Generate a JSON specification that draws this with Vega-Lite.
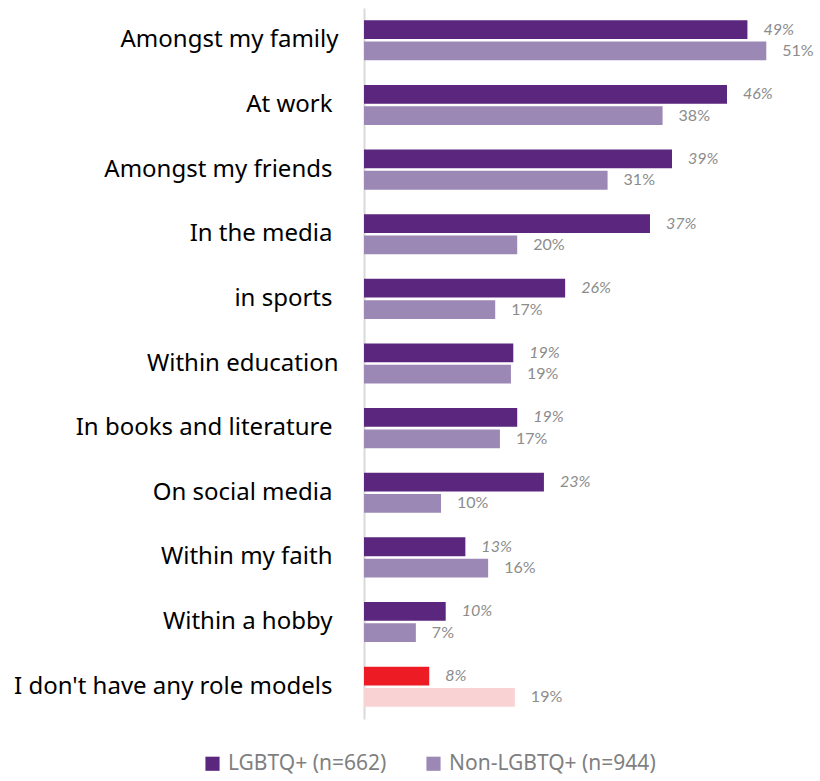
{
  "$schema": "https://vega.github.io/schema/vega-lite/v6.json",
  "autosize": {"type": "none"},
  "padding": {"left": 364, "top": 8, "right": 16, "bottom": 62},
  "width": 440,
  "height": 711,
  "background": "white",
  "config": {"view": {"stroke": null}, "font": "Noto Sans"},
  "data": {"values": [
    {"category": "Amongst my family", "group": "LGBTQ+ (n=662)", "value": 48.8, "label": "49%"},
    {"category": "Amongst my family", "group": "Non-LGBTQ+ (n=944)", "value": 51.2, "label": "51%"},
    {"category": "At work", "group": "LGBTQ+ (n=662)", "value": 46.2, "label": "46%"},
    {"category": "At work", "group": "Non-LGBTQ+ (n=944)", "value": 38.0, "label": "38%"},
    {"category": "Amongst my friends", "group": "LGBTQ+ (n=662)", "value": 39.2, "label": "39%"},
    {"category": "Amongst my friends", "group": "Non-LGBTQ+ (n=944)", "value": 31.0, "label": "31%"},
    {"category": "In the media", "group": "LGBTQ+ (n=662)", "value": 36.4, "label": "37%"},
    {"category": "In the media", "group": "Non-LGBTQ+ (n=944)", "value": 19.5, "label": "20%"},
    {"category": "in sports", "group": "LGBTQ+ (n=662)", "value": 25.6, "label": "26%"},
    {"category": "in sports", "group": "Non-LGBTQ+ (n=944)", "value": 16.7, "label": "17%"},
    {"category": "Within education", "group": "LGBTQ+ (n=662)", "value": 19.0, "label": "19%"},
    {"category": "Within education", "group": "Non-LGBTQ+ (n=944)", "value": 18.7, "label": "19%"},
    {"category": "In books and literature", "group": "LGBTQ+ (n=662)", "value": 19.5, "label": "19%"},
    {"category": "In books and literature", "group": "Non-LGBTQ+ (n=944)", "value": 17.3, "label": "17%"},
    {"category": "On social media", "group": "LGBTQ+ (n=662)", "value": 22.9, "label": "23%"},
    {"category": "On social media", "group": "Non-LGBTQ+ (n=944)", "value": 9.8, "label": "10%"},
    {"category": "Within my faith", "group": "LGBTQ+ (n=662)", "value": 12.9, "label": "13%"},
    {"category": "Within my faith", "group": "Non-LGBTQ+ (n=944)", "value": 15.8, "label": "16%"},
    {"category": "Within a hobby", "group": "LGBTQ+ (n=662)", "value": 10.4, "label": "10%"},
    {"category": "Within a hobby", "group": "Non-LGBTQ+ (n=944)", "value": 6.6, "label": "7%"},
    {"category": "I don't have any role models", "group": "LGBTQ+ (n=662)", "value": 8.3, "label": "8%"},
    {"category": "I don't have any role models", "group": "Non-LGBTQ+ (n=944)", "value": 19.2, "label": "19%"}
  ]},
  "encoding": {
    "y": {
      "field": "category", "type": "nominal", "sort": null,
      "scale": {"paddingInner": 0.38, "paddingOuter": 0.19},
      "axis": {
        "title": null, "ticks": false, "grid": false,
        "domainColor": "#D9D9D9", "domainWidth": 2,
        "labelFontSize": 24, "labelColor": "#000000", "labelFont": "Noto Sans",
        "labelLimit": 400,
        "labelPadding": {"condition": {"test": "datum.value === 'Amongst my family' || datum.value === 'Within education'", "value": 26}, "value": 32}
      }
    },
    "yOffset": {"field": "group", "type": "nominal", "sort": null, "scale": {"paddingInner": 0.12}},
    "x": {"field": "value", "type": "quantitative", "scale": {"domain": [0, 56]}, "axis": null}
  },
  "layer": [
    {
      "mark": {"type": "bar"},
      "encoding": {
        "color": {
          "condition": [
            {"test": "datum.category === \"I don't have any role models\" && datum.group === 'LGBTQ+ (n=662)'", "value": "#ED1C24"},
            {"test": "datum.category === \"I don't have any role models\" && datum.group === 'Non-LGBTQ+ (n=944)'", "value": "#F9D2D4"}
          ],
          "field": "group", "type": "nominal", "sort": null,
          "scale": {"domain": ["LGBTQ+ (n=662)", "Non-LGBTQ+ (n=944)"], "range": ["#5B267E", "#9C88B5"]},
          "legend": {
            "title": null, "orient": "none", "direction": "horizontal",
            "legendX": -162, "legendY": 745,
            "symbolType": "square", "symbolSize": 200, "symbolStrokeWidth": 0,
            "labelFontSize": 21, "labelColor": "#7F7F7F", "labelFont": "Noto Sans",
            "columnPadding": 36, "labelOffset": 5, "labelLimit": 300
          }
        }
      }
    },
    {
      "transform": [{"filter": "datum.group === 'LGBTQ+ (n=662)'"}],
      "mark": {"type": "text", "align": "left", "baseline": "middle", "dx": 16, "fontSize": 16, "fontStyle": "italic", "color": "#8C8C8C", "font": "Lato"},
      "encoding": {"text": {"field": "label"}}
    },
    {
      "transform": [{"filter": "datum.group === 'Non-LGBTQ+ (n=944)'"}],
      "mark": {"type": "text", "align": "left", "baseline": "middle", "dx": 16, "fontSize": 16, "color": "#8C8C8C", "font": "Lato"},
      "encoding": {"text": {"field": "label"}}
    }
  ]
}
